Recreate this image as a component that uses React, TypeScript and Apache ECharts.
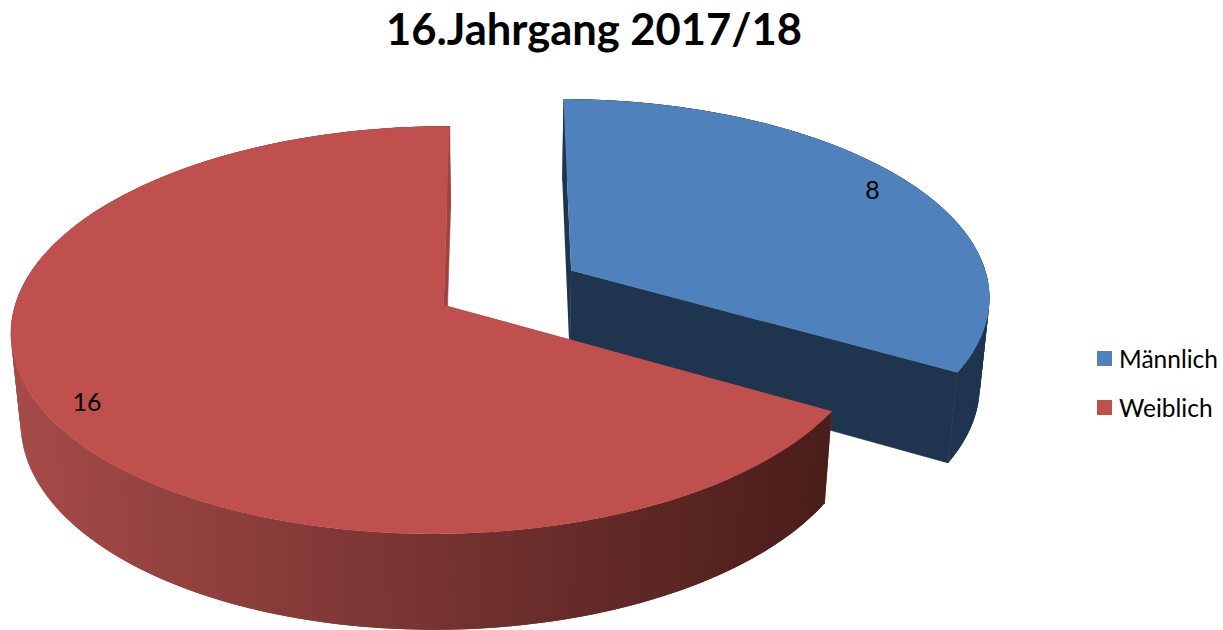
import React, { useEffect, useRef } from "react";
import * as echarts from "echarts";

const titleText = "16.Jahrgang 2017/18";
const sliceNames = ["Männlich", "Weiblich"];
const sliceValues = [8, 16];
const explosions = [0.2, 0.15];
const labelRadius = [0.895, 0.9];
const topColors = ["#4f81bd", "#c0504d"];
const cutColors = ["#1f344f", "#a04240"];
const wallStart = [
  [31, 52, 79],
  [165, 75, 72],
];
const wallEnd = [
  [31, 52, 79],
  [74, 29, 27],
];
const FONT = "Lato";

// 3D view of the pie: a projective map of the disc plane plus a drop for thickness
const view = { x0: 499, y0: 290, A: 422, B: 197, C: 90, k: 0.122, j: 0.005, m: 0.02 };
function project(X: number, Y: number, Z: number): number[] {
  const w = 1 / (1 - view.k * Y + view.j * X + view.m * Z);
  return [view.x0 + view.A * X * w, view.y0 + (view.B * Y + view.C * Z) * w];
}

const total = sliceValues.reduce((a, b) => a + b, 0);

function makeRender(index: number) {
  return (_params: any, api: any) => {
    const value = api.value(0);
    const before = sliceValues.slice(0, index).reduce((a, b) => a + b, 0);
    const t0 = (before / total) * Math.PI * 2;
    const t1 = t0 + (value / total) * Math.PI * 2;
    const mid = (t0 + t1) / 2;
    const ox = explosions[index] * Math.sin(mid);
    const oy = -explosions[index] * Math.cos(mid);
    const rim = (t: number, z: number) => project(ox + Math.sin(t), oy - Math.cos(t), z);
    const apex = (z: number) => project(ox, oy, z);
    const steps = Math.ceil((t1 - t0) / (Math.PI / 180));
    const angle = (i: number) => t0 + ((t1 - t0) * Math.min(i, steps)) / steps;
    const top: number[][] = [apex(0)];
    let minX = Infinity;
    let maxX = -Infinity;
    for (let i = 0; i <= steps; i++) {
      const p = rim(angle(i), 0);
      top.push(p);
      minX = Math.min(minX, p[0]);
      maxX = Math.max(maxX, p[0]);
    }
    // Wall bands are painted in order, each reaching under the next, so no seams show.
    const wall: any[] = [];
    for (let i = 0; i < steps; i++) {
      const a = rim(angle(i), 0);
      const b = rim(angle(i + 1), 0);
      const f = Math.max(0, Math.min(1, ((a[0] + b[0]) / 2 - minX) / (maxX - minX)));
      const c = wallStart[index].map((s, n) => Math.round(s + (wallEnd[index][n] - s) * f));
      wall.push({
        type: "polygon",
        shape: { points: [a, rim(angle(i + 2), 0), rim(angle(i + 2), 1), rim(angle(i), 1)] },
        style: { fill: `rgb(${c[0]},${c[1]},${c[2]})` },
      });
    }
    const face = (t: number) => [apex(0), rim(t, 0), rim(t, 1), apex(1)];
    const r = labelRadius[index];
    const labelPos = project(ox + r * Math.sin(mid), oy - r * Math.cos(mid), 0);
    return {
      type: "group",
      children: [
        { type: "polygon", shape: { points: face(t0) }, style: { fill: cutColors[index] } },
        ...wall,
        {
          type: "polygon",
          shape: { points: face(t1) },
          style: { fill: cutColors[index], stroke: cutColors[index], lineWidth: 0.6 },
        },
        { type: "polygon", shape: { points: top }, style: { fill: topColors[index] } },
        {
          type: "text",
          x: labelPos[0],
          y: labelPos[1],
          style: {
            text: String(value),
            fill: "#000000",
            font: `25px ${FONT}`,
            align: "center",
            verticalAlign: "middle",
          },
        },
      ],
    };
  };
}

export default function App() {
  const ref = useRef<HTMLDivElement>(null);
  useEffect(() => {
    document.body.style.margin = "0";
    const chart = echarts.init(ref.current!, undefined, { renderer: "svg" });
    chart.setOption({
      animation: false,
      backgroundColor: "#ffffff",
      title: {
        text: titleText,
        left: 589,
        top: 1,
        textAlign: "center",
        textStyle: { fontFamily: FONT, fontWeight: "bold", fontSize: 43.5, color: "#000000" },
      },
      legend: {
        orient: "vertical",
        left: 1092,
        top: 341,
        itemWidth: 15,
        itemHeight: 15,
        itemGap: 24,
        icon: "rect",
        data: sliceNames,
        textStyle: { fontFamily: FONT, fontSize: 24.5, color: "#000000", padding: [0, 0, 0, 2] },
      },
      series: sliceNames.map((name, i) => ({
        type: "custom",
        name,
        coordinateSystem: "none",
        itemStyle: { color: topColors[i] },
        data: [[sliceValues[i]]],
        renderItem: makeRender(i),
      })),
    });
    return () => chart.dispose();
  }, []);
  return <div ref={ref} style={{ width: 1223, height: 630 }} />;
}
